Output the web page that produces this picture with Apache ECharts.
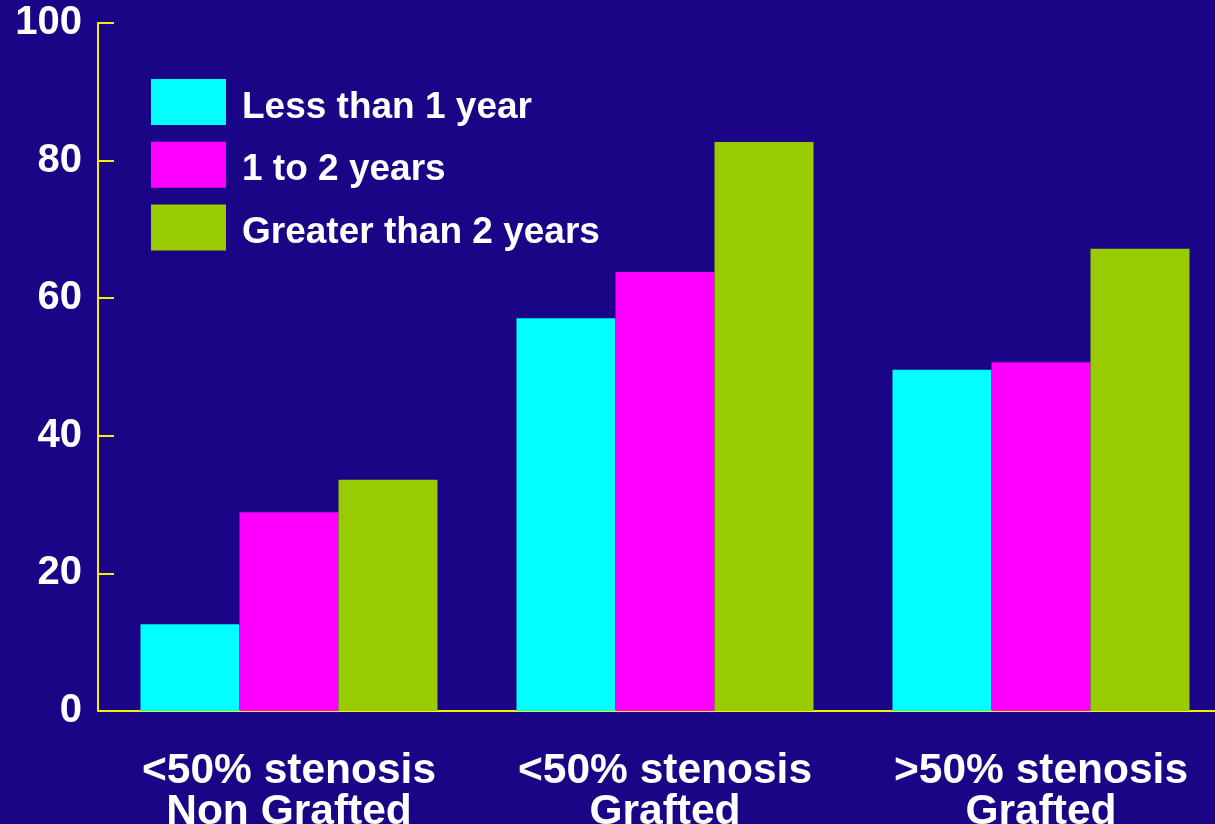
<!DOCTYPE html>
<html>
<head>
<meta charset="utf-8">
<script src="https://cdn.jsdelivr.net/npm/echarts@6/dist/echarts.min.js"></script>
<style>
  html, body { margin: 0; padding: 0; background: #1a0587; }
  #chart { width: 1215px; height: 824px; }
</style>
</head>
<body>
<div id="chart"></div>
<script>
// Stenosis groups along the x axis
const categories = ['<50% stenosis\nNon Grafted', '<50% stenosis\nGrafted', '>50% stenosis\nGrafted'];
// Series names (time since surgery)
const seriesNames = ['Less than 1 year', '1 to 2 years', 'Greater than 2 years'];
// Percent values per group
const lessThan1Year = [12.6, 57.1, 49.6];
const oneTo2Years = [28.9, 63.8, 50.7];
const greaterThan2Years = [33.6, 82.7, 67.2];
const yTicks = [0, 20, 40, 60, 80, 100];

const colors = ['#00ffff', '#ff00ff', '#99cc00'];
const font = '"Liberation Sans", Arial, sans-serif';
const axisYellow = '#f2f200';

const chart = echarts.init(document.getElementById('chart'));
const values = [lessThan1Year, oneTo2Years, greaterThan2Years];

chart.setOption({
  backgroundColor: '#1a0587',
  animation: false,
  // the plot runs a little past the right edge of the canvas, and the
  // category labels are allowed to be clipped at the bottom
  grid: {
    left: 101, width: 1128, top: 23, height: 688,
    containLabel: false,
    outerBoundsMode: 'none'
  },
  legend: {
    orient: 'vertical',
    left: 151,
    top: 79,
    padding: 0,
    itemWidth: 75,
    itemHeight: 46,
    itemGap: 15.7,
    icon: 'rect',
    data: seriesNames,
    formatter: '{t|{name}}',
    textStyle: {
      color: '#ffffff',
      fontFamily: font,
      fontWeight: 'bold',
      fontSize: 37,
      padding: [0, 0, 0, 11],
      rich: {
        // sit the names slightly low within their row
        t: {
          color: '#ffffff',
          fontFamily: font,
          fontWeight: 'bold',
          fontSize: 37,
          lineHeight: 48,
          verticalAlign: 'bottom'
        }
      }
    }
  },
  xAxis: {
    type: 'category',
    data: categories,
    axisLine: { show: true, lineStyle: { color: axisYellow, width: 2 } },
    axisTick: { show: false },
    axisLabel: {
      color: '#ffffff',
      fontFamily: font,
      fontWeight: 'bold',
      fontSize: 42.5,
      lineHeight: 41,
      margin: 40,
      interval: 0
    }
  },
  yAxis: {
    type: 'value',
    offset: 3,
    min: yTicks[0],
    max: yTicks[yTicks.length - 1],
    interval: yTicks[1] - yTicks[0],
    splitLine: { show: false },
    axisLine: { show: true, lineStyle: { color: axisYellow, width: 2 } },
    axisTick: { show: true, inside: true, length: 16, lineStyle: { color: axisYellow, width: 2 } },
    axisLabel: {
      color: '#ffffff',
      fontFamily: font,
      fontWeight: 'bold',
      fontSize: 40,
      margin: 16
    }
  },
  series: seriesNames.map((name, i) => ({
    name: name,
    type: 'bar',
    data: values[i],
    barWidth: 99,
    barGap: '0%',
    itemStyle: { color: colors[i] }
  }))
});
</script>
</body>
</html>
